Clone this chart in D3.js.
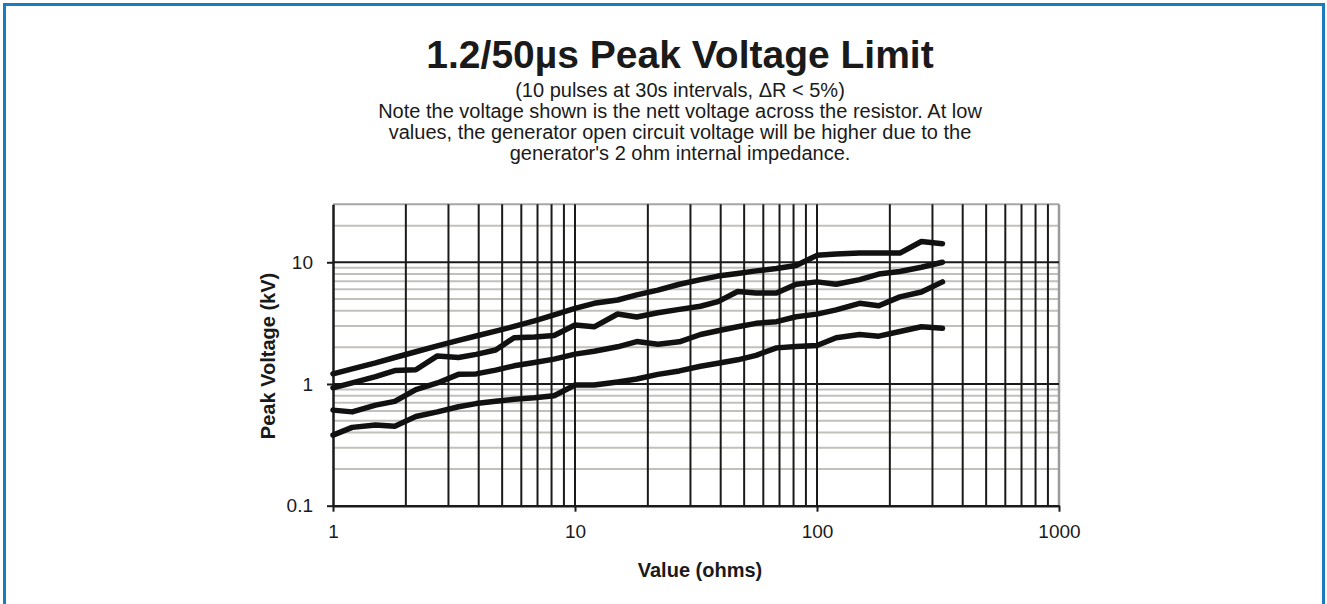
<!DOCTYPE html>
<html>
<head>
<meta charset="utf-8">
<script src="https://cdn.jsdelivr.net/npm/d3@7"></script>
<style>
  html, body { margin: 0; padding: 0; background: #fff; }
  svg { display: block; font-family: Arial, "Liberation Sans", sans-serif; }
</style>
</head>
<body>
<svg id="chart" width="1327" height="604"></svg>
<script>
// ---- data ----
const resistance = [1, 1.2, 1.5, 1.8, 2.2, 2.7, 3.3, 3.9, 4.7, 5.6, 6.8, 8.2, 10, 12, 15, 18, 22, 27, 33, 39, 47, 56, 68, 82, 100, 120, 150, 180, 220, 270, 330];
const seriesA = [1.21, 1.33, 1.49, 1.65, 1.84, 2.06, 2.28, 2.48, 2.72, 2.97, 3.30, 3.69, 4.18, 4.6, 4.9, 5.4, 5.9, 6.6, 7.2, 7.7, 8.1, 8.5, 8.9, 9.4, 11.4, 11.7, 11.9, 11.9, 11.9, 14.8, 14.2];
const seriesB = [0.93, 1.02, 1.15, 1.29, 1.31, 1.70, 1.65, 1.75, 1.90, 2.40, 2.43, 2.50, 3.05, 2.95, 3.76, 3.55, 3.85, 4.1, 4.35, 4.75, 5.75, 5.6, 5.6, 6.6, 6.9, 6.6, 7.2, 8.0, 8.4, 9.1, 10.0];
const seriesC = [0.61, 0.59, 0.67, 0.72, 0.90, 1.02, 1.20, 1.21, 1.30, 1.41, 1.50, 1.60, 1.76, 1.86, 2.02, 2.23, 2.12, 2.22, 2.55, 2.74, 2.95, 3.15, 3.25, 3.57, 3.75, 4.06, 4.6, 4.4, 5.2, 5.7, 6.9];
const seriesD = [0.38, 0.44, 0.46, 0.45, 0.54, 0.59, 0.65, 0.69, 0.72, 0.75, 0.77, 0.80, 0.98, 0.98, 1.04, 1.10, 1.20, 1.28, 1.40, 1.48, 1.58, 1.72, 1.98, 2.03, 2.07, 2.40, 2.55, 2.47, 2.70, 2.95, 2.87];
const allSeries = [seriesA, seriesB, seriesC, seriesD];
const xTicks = [1, 10, 100, 1000];
const yTicks = [0.1, 1, 10];
const titleText = "1.2/50µs Peak Voltage Limit";
const subtitleLines = [
  "(10 pulses at 30s intervals, ΔR < 5%)",
  "Note the voltage shown is the nett voltage across the resistor. At low",
  "values, the generator open circuit voltage will be higher due to the",
  "generator's 2 ohm internal impedance."
];
const xLabel = "Value (ohms)";
const yLabel = "Peak Voltage (kV)";

// ---- layout ----
const svg = d3.select("#chart");
const pLeft = 333, pRight = 1059, pTop = 204.2, pBottom = 505.7;
const x = d3.scaleLog().domain([1, 1000]).range([pLeft, pRight]);
const y = d3.scaleLog().domain([0.1, 30]).range([pBottom, pTop]);

// outer blue frame
svg.append("rect").attr("x", 4.5).attr("y", 4.5).attr("width", 1319).attr("height", 640)
  .attr("fill", "none").attr("stroke", "#1a7bbd").attr("stroke-width", 3);

// title
const cx = 680;
svg.append("text").attr("x", cx).attr("y", 67.5).attr("text-anchor", "middle")
  .attr("font-size", 39).attr("font-weight", "bold").attr("fill", "#1a1a1a").text(titleText);
subtitleLines.forEach((t, i) => {
  svg.append("text").attr("x", cx).attr("y", 96.5 + i * 21.3).attr("text-anchor", "middle")
    .attr("font-size", 20).attr("fill", "#1a1a1a").text(t);
});

// grid values
const minorVals = [];
[0.1, 1, 10].forEach(d => { for (let k = 2; k <= 9; k++) minorVals.push(d * k); });
const yMinor = minorVals.filter(v => v < 30);
const xGrid = [];
[1, 10, 100].forEach(d => { for (let k = 1; k <= 9; k++) xGrid.push(d * k); });

const g = svg.append("g");
g.selectAll("line.hmin").data(yMinor).enter().append("line")
  .attr("x1", pLeft).attr("x2", pRight).attr("y1", d => y(d)).attr("y2", d => y(d))
  .attr("stroke", "#c3c0bc").attr("stroke-width", 2);
g.append("line").attr("x1", pLeft).attr("x2", pRight).attr("y1", pTop).attr("y2", pTop)
  .attr("stroke", "#a6a6a6").attr("stroke-width", 2);
g.selectAll("line.v").data(xGrid.filter(v => v > 1)).enter().append("line")
  .attr("x1", d => x(d)).attr("x2", d => x(d)).attr("y1", pTop).attr("y2", pBottom)
  .attr("stroke", "#1a1a1a").attr("stroke-width", 2);
g.append("line").attr("x1", pRight).attr("x2", pRight).attr("y1", pTop).attr("y2", pBottom)
  .attr("stroke", "#9a9a9a").attr("stroke-width", 2.5);
g.selectAll("line.hmaj").data([1, 10]).enter().append("line")
  .attr("x1", pLeft).attr("x2", pRight).attr("y1", d => y(d)).attr("y2", d => y(d))
  .attr("stroke", "#1a1a1a").attr("stroke-width", 2);

// axes
const xAxis = d3.axisBottom(x).tickValues(xTicks).tickFormat(d3.format("d")).tickSize(6).tickSizeOuter(0).tickPadding(13);
const yAxis = d3.axisLeft(y).tickValues(yTicks).tickFormat(d => String(d)).tickSize(6).tickSizeOuter(0).tickPadding(14);
const gx = svg.append("g").attr("transform", `translate(0,${pBottom})`).call(xAxis);
const gy = svg.append("g").attr("transform", `translate(${pLeft},0)`).call(yAxis);
[gx, gy].forEach(a => {
  a.select(".domain").attr("stroke", "#1a1a1a").attr("stroke-width", 2.5);
  a.selectAll(".tick line").attr("stroke", "#1a1a1a").attr("stroke-width", 2);
  a.selectAll(".tick text").attr("font-size", 19).attr("fill", "#1a1a1a")
    .attr("font-family", "Arial, 'Liberation Sans', sans-serif");
});

// axis titles
svg.append("text").attr("x", 700).attr("y", 577).attr("text-anchor", "middle")
  .attr("font-size", 20).attr("font-weight", "bold").attr("fill", "#1a1a1a").text(xLabel);
svg.append("text").attr("transform", "translate(275,356) rotate(-90)").attr("text-anchor", "middle")
  .attr("font-size", 20).attr("font-weight", "bold").attr("fill", "#1a1a1a").text(yLabel);

// series
const line = d3.line().x((d, i) => x(resistance[i])).y(d => y(d));
svg.selectAll("path.series").data(allSeries).enter().append("path")
  .attr("class", "series").attr("d", line)
  .attr("fill", "none").attr("stroke", "#111").attr("stroke-width", 5.5)
  .attr("stroke-linejoin", "round").attr("stroke-linecap", "round");
</script>
</body>
</html>
